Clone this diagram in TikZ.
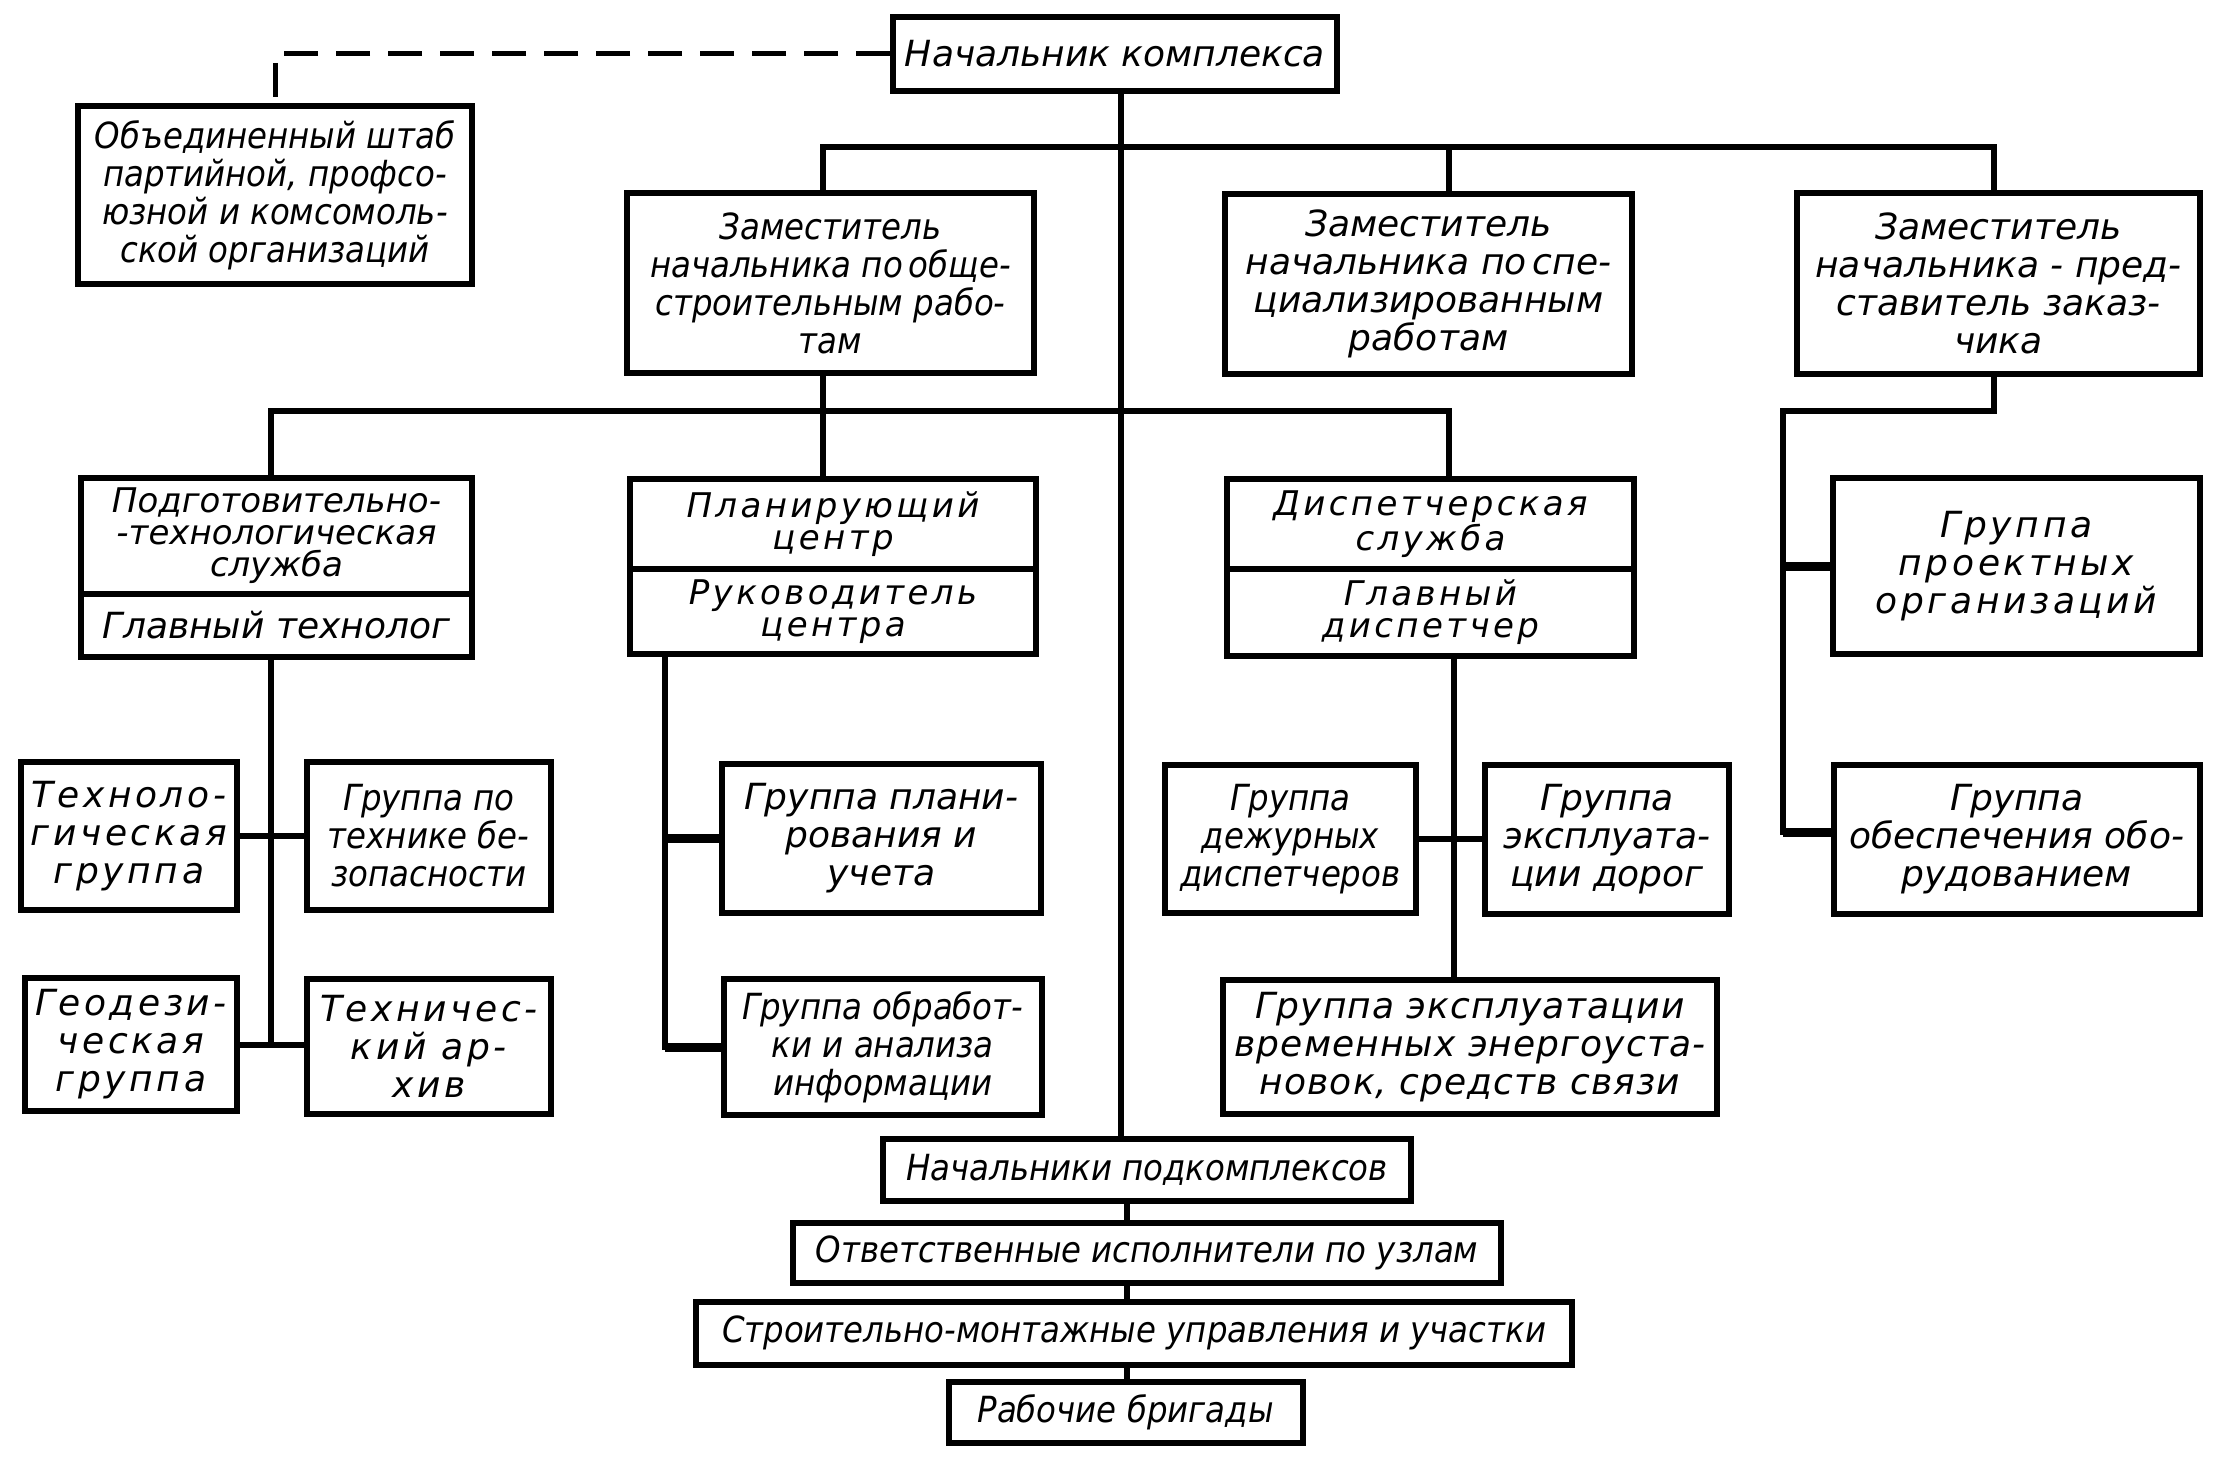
\documentclass[tikz,border=0pt]{standalone}
\usepackage{fontspec}
\setmainfont{Liberation Sans}
\newfontfamily\gf{DejaVu Sans Oblique}
\newfontfamily\gn{DejaVu Sans Oblique}[FakeStretch=0.9]
\newfontfamily\gw{DejaVu Sans Oblique}[LetterSpace=10]
\newfontfamily\gws{DejaVu Sans Oblique}[LetterSpace=3]
\newcommand\gtxt{\fontsize{36}{38}\selectfont\gf}
\newcommand\gnar{\fontsize{36}{38}\selectfont\gn}
\newcommand\gwide{\fontsize{36}{38}\selectfont\gw}
\newcommand\gslight{\fontsize{36}{38}\selectfont\gws}
\newcommand\gsm{\fontsize{34}{32}\selectfont\gf}
\newcommand\gsmw{\fontsize{34}{32}\selectfont\gw}
\begin{document}
\begin{tikzpicture}[x=1pt,y=-1pt,
  box/.style={draw, line width=6pt, inner sep=0pt, align=center, font=\gtxt},
  ln/.style={line width=6pt, line cap=rect, line join=miter},
  thk/.style={line width=9pt, line cap=butt},
  dsh/.style={line width=5pt, dash pattern=on 34pt off 18pt},
]
\useasboundingbox[fill=white] (0,0) rectangle (2220,1464);

% x / y reference coordinates
\coordinate (xa) at (271,0);
\coordinate (xb) at (823,0);
\coordinate (xm) at (1121,0);
\coordinate (xn) at (1127,0);
\coordinate (xc) at (1449,0);
\coordinate (xg) at (1454,0);
\coordinate (xd) at (1994,0);
\coordinate (xe) at (1783,0);
\coordinate (xf) at (665,0);
\coordinate (y1) at (0,147);
\coordinate (y2) at (0,411);
\coordinate (y3) at (0,832);

% top level
\node[box, minimum width=444pt, minimum height=74pt] (nach) at (1115,54) {Начальник комплекса};
\node[box, font=\gnar, minimum width=394pt, minimum height=178pt] (shtab) at (275,195)
  {Объединенный штаб\\партийной, профсо-\\юзной и комсомоль-\\ской организаций};

\node[box, font=\gnar, minimum width=407pt, minimum height=180pt] (zam1) at (830.5,283)
  {Заместитель\\начальника по\,обще-\\строительным рабо-\\там};
\node[box, minimum width=407pt, minimum height=180pt] (zam2) at (1428.5,284)
  {Заместитель\\начальника по\,спе-\\циализированным\\работам};
\node[box, minimum width=403pt, minimum height=181pt] (zam3) at (1998.5,283.5)
  {Заместитель\\начальника - пред-\\ставитель заказ-\\чика};

% services
\node[box, font=\gsm, minimum width=391pt, minimum height=115.5pt] (podg) at (276.5,536)
  {Подготовительно-\\-технологическая\\служба};
\node[box, minimum width=391pt, minimum height=63pt] (podgh) at (276.5,625.5)
  {Главный технолог};

\node[box, font=\gsmw, minimum width=406pt, minimum height=90.5pt] (plan) at (833,524)
  {Планирующий\\центр};
\node[box, font=\gsmw, minimum width=406pt, minimum height=85pt] (planh) at (833,611.5)
  {Руководитель\\центра};

\node[box, font=\gsmw, minimum width=407pt, minimum height=90.5pt] (disp) at (1430.5,524)
  {Диспетчерская\\служба};
\node[box, font=\gsmw, minimum width=407pt, minimum height=87pt] (disph) at (1430.5,612.5)
  {Главный\\диспетчер};

\node[box, font=\gwide, minimum width=367pt, minimum height=175.5pt] (proekt) at (2016.5,566)
  {Группа\\проектных\\организаций};

% groups
\node[box, font=\gwide, minimum width=216pt, minimum height=148pt] (tech) at (129,836)
  {Техноло-\\гическая\\группа};
\node[box, font=\gnar, minimum width=244.5pt, minimum height=148pt] (tb) at (428.75,836)
  {Группа по\\технике бе-\\зопасности};
\node[box, font=\gwide, minimum width=212pt, minimum height=133pt] (geo) at (131,1044.5)
  {Геодези-\\ческая\\группа};
\node[box, font=\gwide, minimum width=244.5pt, minimum height=135pt] (arch) at (428.75,1046.5)
  {Техничес-\\кий ар-\\хив};

\node[box, minimum width=319pt, minimum height=149pt] (gplan) at (881.5,838.5)
  {Группа плани-\\рования и\\учета};
\node[box, font=\gnar, minimum width=318.5pt, minimum height=136.5pt] (gobr) at (882.75,1047)
  {Группа обработ-\\ки и анализа\\информации};

\node[box, font=\gnar, minimum width=251pt, minimum height=148pt] (dezh) at (1290.5,839)
  {Группа\\дежурных\\диспетчеров};
\node[box, minimum width=244.5pt, minimum height=149pt] (dorog) at (1607,839.5)
  {Группа\\эксплуата-\\ции дорог};
\node[box, font=\gslight, minimum width=494pt, minimum height=134pt] (vrem) at (1470,1047)
  {Группа эксплуатации\\временных энергоуста-\\новок, средств связи};

\node[box, minimum width=366.5pt, minimum height=149pt] (obesp) at (2016.75,839.5)
  {Группа\\обеспечения обо-\\рудованием};

% bottom chain
\node[box, font=\gnar, minimum width=527.5pt, minimum height=62.5pt] (podk) at (1147,1170)
  {Начальники подкомплексов};
\node[box, font=\gnar, minimum width=708.5pt, minimum height=60.6pt] (otv) at (1147,1253)
  {Ответственные исполнители по узлам};
\node[box, font=\gnar, minimum width=876pt, minimum height=63pt] (stroi) at (1134,1333)
  {Строительно-монтажные управления и участки};
\node[box, font=\gnar, minimum width=354pt, minimum height=61pt] (rab) at (1125.6,1412.5)
  {Рабочие бригады};

% connectors
\draw[dsh] (nach.west) -| (shtab.north);
\draw[ln] (nach.south -| xm) -- (podk.north -| xm);
\draw[ln] (zam1.north -| xb) -- (xb |- y1) -- (xd |- y1) -- (zam3.north -| xd);
\draw[ln] (xc |- y1) -- (zam2.north -| xc);
\draw[ln] (zam1.south -| xb) -- (plan.north -| xb);
\draw[ln] (podg.north -| xa) -- (xa |- y2) -- (xc |- y2) -- (disp.north -| xc);
\draw[ln] (zam3.south -| xd) -- (xd |- y2) -- (xe |- y2) -- (xe |- y3);
\draw[thk] (xe |- y3) -- (obesp.west |- y3);
\draw[thk] (xe |- proekt.west) -- (proekt.west);

\draw[ln] (podgh.south -| xa) -- (xa |- geo.east);
\draw[ln] (tech.east) -- (tb.west);
\draw[ln] (geo.east) -- (geo.east -| arch.west);

\draw[ln] (planh.south -| xf) -- (xf |- gobr.west);
\draw[thk] (xf |- gobr.west) -- (gobr.west);
\draw[thk] (xf |- gplan.west) -- (gplan.west);

\draw[ln] (disph.south -| xg) -- (vrem.north -| xg);
\draw[ln] (dezh.east) -- (dezh.east -| dorog.west);

\draw[ln] (podk.south -| xn) -- (otv.north -| xn);
\draw[ln] (otv.south -| xn) -- (stroi.north -| xn);
\draw[ln] (stroi.south -| xn) -- (rab.north -| xn);
\end{tikzpicture}
\end{document}
